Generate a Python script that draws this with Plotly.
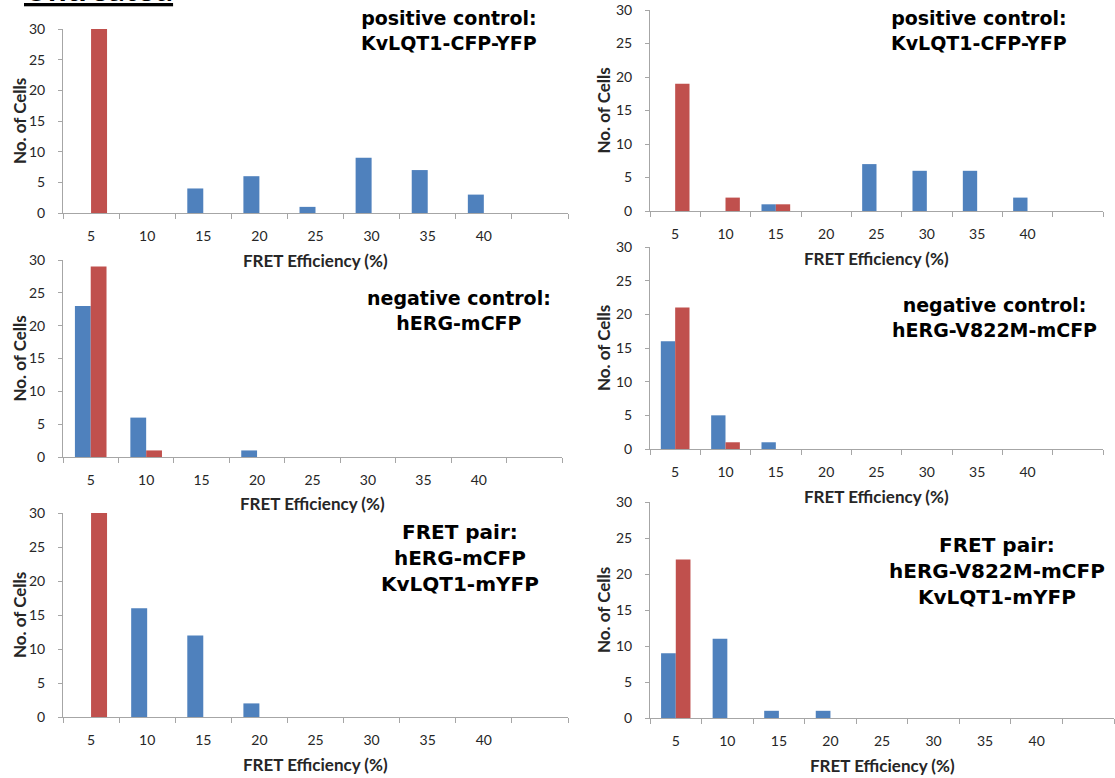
import plotly.graph_objects as go

W, H = 1115, 778

categories = ["5", "10", "15", "20", "25", "30", "35", "40", " "]

# panel values: (blue series, red series)
p1_blue = [0, 0, 4, 6, 1, 9, 7, 3, 0]
p1_red = [30, 0, 0, 0, 0, 0, 0, 0, 0]
p2_blue = [0, 0, 1, 0, 7, 6, 6, 2, 0]
p2_red = [19, 2, 1, 0, 0, 0, 0, 0, 0]
p3_blue = [23, 6, 0, 1, 0, 0, 0, 0, 0]
p3_red = [29, 1, 0, 0, 0, 0, 0, 0, 0]
p4_blue = [16, 5, 1, 0, 0, 0, 0, 0, 0]
p4_red = [21, 1, 0, 0, 0, 0, 0, 0, 0]
p5_blue = [0, 16, 12, 2, 0, 0, 0, 0, 0]
p5_red = [30, 0, 0, 0, 0, 0, 0, 0, 0]
p6_blue = [9, 11, 1, 1, 0, 0, 0, 0, 0]
p6_red = [22, 0, 0, 0, 0, 0, 0, 0, 0]

titles = [
    "positive control:<br>KvLQT1-CFP-YFP",
    "positive control:<br>KvLQT1-CFP-YFP",
    "negative control:<br>hERG-mCFP",
    "negative control:<br>hERG-V822M-mCFP",
    "FRET pair:<br>hERG-mCFP<br>KvLQT1-mYFP",
    "FRET pair:<br>hERG-V822M-mCFP<br>KvLQT1-mYFP",
]
x_title = "FRET Efficiency (%)"
y_title = "No. of Cells"

BLUE = "#4F81BD"
RED = "#C0504D"
AXC = "#A6A6A6"
TXT = "#262626"

# pixel boxes: (left, right, top(y=30), bottom(y=0))
boxes = [
    (63, 568, 29, 213),
    (650, 1103, 10, 211),
    (63, 562, 260, 457),
    (650, 1103, 247, 449),
    (63, 568, 513, 717),
    (650, 1114, 502, 718),
]
# title centre (x, y of block centre), font size
title_pos = [
    (449, 30, 19), (979, 30, 19), (459, 310, 19), (994, 318, 19), (460, 558, 20), (997, 571, 20),
]
ytitle_x = [19, 603, 19, 603, 19, 603]

series = [
    (p1_blue, p1_red), (p2_blue, p2_red), (p3_blue, p3_red),
    (p4_blue, p4_red), (p5_blue, p5_red), (p6_blue, p6_red),
]

fig = go.Figure()
layout = dict(
    width=W, height=H,
    margin=dict(l=0, r=0, t=0, b=0),
    paper_bgcolor="white", plot_bgcolor="white",
    showlegend=False,
    barmode="group", bargap=0.43, bargroupgap=0,
    font=dict(family="Lato, sans-serif", color=TXT),
    annotations=[],
)

def px(x):
    return x / W

def py(y):
    return 1 - y / H

for i, ((b, r), box, tp, t, yx) in enumerate(zip(series, boxes, title_pos, titles, ytitle_x)):
    n = i + 1
    xa = "x" if n == 1 else f"x{n}"
    ya = "y" if n == 1 else f"y{n}"
    fig.add_trace(go.Bar(x=categories, y=b, marker=dict(color=BLUE, line=dict(width=0)),
                         xaxis=xa, yaxis=ya, name="blue"))
    fig.add_trace(go.Bar(x=categories, y=r, marker=dict(color=RED, line=dict(width=0)),
                         xaxis=xa, yaxis=ya, name="red"))
    l, rr, top, bot = box
    layout[f"xaxis{n}"] = dict(
        domain=[px(l), px(rr)], anchor=ya, type="category",
        categoryorder="array", categoryarray=categories,
        tickson="boundaries", ticks="outside", ticklen=5, tickcolor=AXC,
        showline=True, linecolor=AXC, linewidth=1, showgrid=False, zeroline=False,
        tickfont=dict(size=14, color=TXT), ticklabelstandoff=10, automargin=False,
        fixedrange=True,
    )
    layout[f"yaxis{n}"] = dict(
        domain=[py(bot), py(top)], anchor=xa, range=[0, 30], dtick=5,
        ticks="outside", ticklen=4, tickcolor=AXC,
        showline=True, linecolor=AXC, linewidth=1, showgrid=False, zeroline=False,
        tickfont=dict(size=14, color=TXT), ticklabelstandoff=10, automargin=False,
        fixedrange=True,
    )
    # panel title
    layout["annotations"].append(dict(
        text=f"<b>{t}</b>", x=px(tp[0]), y=py(tp[1]), xref="paper", yref="paper",
        xanchor="center", yanchor="middle", showarrow=False, align="center",
        font=dict(family="DejaVu Sans", size=tp[2], color="black"),
    ))
    # x title
    layout["annotations"].append(dict(
        text=f"<b>{x_title}</b>", x=px((l + rr) / 2), y=py(bot + 47), xref="paper", yref="paper",
        xanchor="center", yanchor="middle", showarrow=False,
        font=dict(size=17, color=TXT),
    ))
    # y title
    layout["annotations"].append(dict(
        text=f"<b>{y_title}</b>", x=px(yx), y=py((top + bot) / 2), xref="paper", yref="paper",
        xanchor="center", yanchor="middle", showarrow=False, textangle=-90,
        font=dict(size=17, color=TXT),
    ))

layout["annotations"].append(dict(
    text="<b><u>Untreated</u></b>", x=px(22), y=py(-12), xref="paper", yref="paper",
    xanchor="left", yanchor="middle", showarrow=False,
    font=dict(size=33, color="black"),
))

fig.update_layout(**layout)
fig.write_html("out.html")
